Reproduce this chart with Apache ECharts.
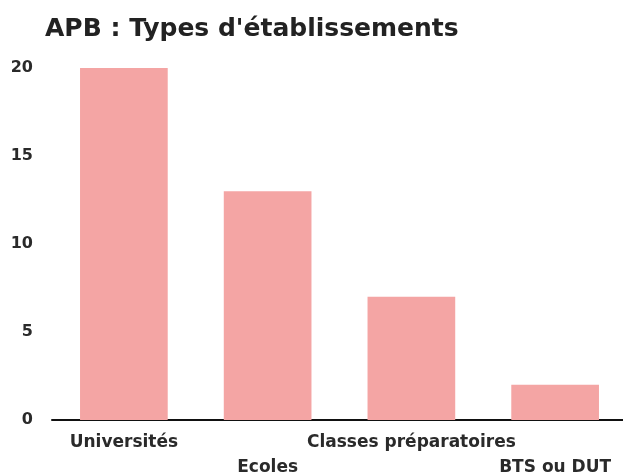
<!DOCTYPE html>
<html>
<head>
<meta charset="utf-8">
<script src="https://cdn.jsdelivr.net/npm/echarts@6/dist/echarts.min.js"></script>
<style>
  html, body { margin: 0; padding: 0; background: #fff; }
  #myChart { width: 623px; height: 475px; }
</style>
</head>
<body>
<div id="myChart"></div>
<script>
const categories = ['Universités', 'Ecoles', 'Classes préparatoires', 'BTS ou DUT']
const counts = [20, 13, 7, 2]
const yTicks = { min: 0, max: 20, interval: 5 }

const myChart = echarts.init(document.getElementById('myChart'))
myChart.setOption({
  title: {
    text: "APB : Types d'établissements",
    left: 40,
    top: 12,
    textStyle: { fontFamily: 'DejaVu Sans', fontWeight: 'bold', fontSize: 25, color: '#222' }
  },
  grid: { left: 52, right: -4, top: 68, bottom: 55, outerBoundsMode: 'none', containLabel: false },
  xAxis: {
    type: 'category',
    data: categories,
    axisLine: { lineStyle: { color: '#111', width: 2 } },
    axisTick: { show: false },
    axisLabel: {
      interval: 0,
      margin: 10,
      color: '#2a2a2a',
      fontFamily: 'DejaVu Sans',
      fontWeight: 'bold',
      fontSize: 17,
      lineHeight: 25,
      formatter: (v, i) => (i % 2 === 1 ? '\n' + v : v)
    }
  },
  yAxis: {
    type: 'value',
    min: yTicks.min,
    max: yTicks.max,
    interval: yTicks.interval,
    splitLine: { show: false },
    axisLine: { show: false },
    axisTick: { show: false },
    axisLabel: { color: '#2a2a2a', fontFamily: 'DejaVu Sans', fontWeight: 'bold', fontSize: 16, margin: 19 }
  },
  series: [
    {
      type: 'bar',
      data: counts,
      barCategoryGap: '39%',
      itemStyle: { color: '#f4a5a4' },
      animation: false
    }
  ]
})
</script>
</body>
</html>
